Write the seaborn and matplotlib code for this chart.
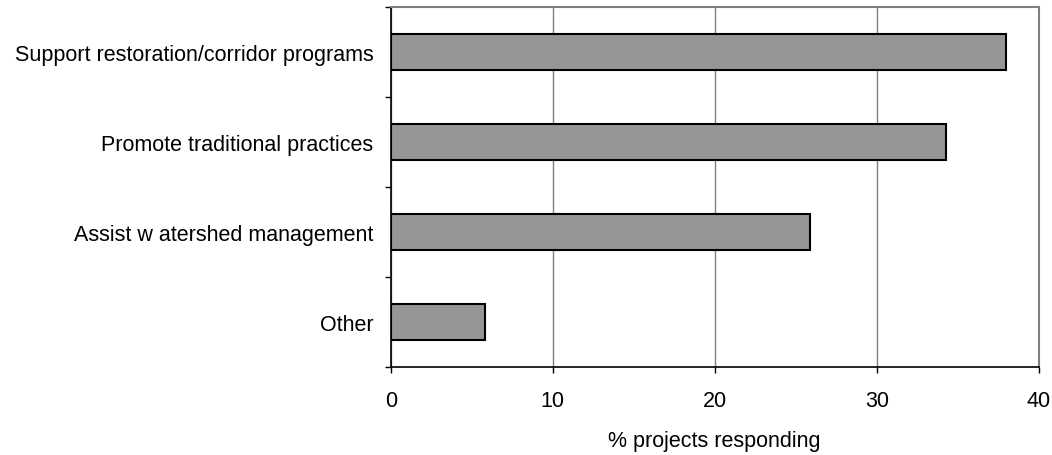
import matplotlib
matplotlib.use("Agg")
import matplotlib.pyplot as plt
import seaborn as sns
import pandas as pd
from matplotlib.ticker import FixedLocator

categories = [
    "Support restoration/corridor programs",
    "Promote traditional practices",
    "Assist w atershed management",
    "Other",
]
values = [38.0, 34.3, 25.9, 5.8]
x_ticks = [0, 10, 20, 30, 40]
x_label = "% projects responding"

sns.set_theme(style="white")
plt.rcParams["font.family"] = ["Liberation Sans", "DejaVu Sans"]

FS = 15.5

df = pd.DataFrame({"category": categories, "value": values})

fig = plt.figure(figsize=(10.52, 4.56), dpi=100)
ax = fig.add_axes([0.3714, 0.1923, 0.6160, 0.7902])

sns.barplot(data=df, x="value", y="category", orient="h", ax=ax,
            color="#969696", saturation=1, width=0.4,
            edgecolor="black", linewidth=1.5, zorder=3)

ax.set_xlim(0, 40)
ax.set_ylim(len(categories) - 0.5, -0.5)
ax.set_xticks(x_ticks)
ax.set_xticklabels([str(t) for t in x_ticks])
ax.xaxis.grid(True, color="#808080", linewidth=1.0, zorder=0)
ax.yaxis.grid(False)

# category separators as outward ticks on the value axis
ax.yaxis.set_minor_locator(FixedLocator([i - 0.5 for i in range(len(categories) + 1)]))
ax.tick_params(axis="y", which="major", length=0, pad=12.5, labelsize=FS, colors="black")
ax.tick_params(axis="y", which="minor", left=True, length=4.5, width=1.0, color="black")
ax.tick_params(axis="x", which="major", bottom=True, length=4.0, width=1.0,
               color="black", pad=12, labelsize=FS, labelcolor="black")

ax.set_ylabel("")
ax.set_xlabel(x_label, fontsize=FS, labelpad=14, color="black")

for side in ("left", "bottom"):
    ax.spines[side].set_color("black")
    ax.spines[side].set_linewidth(1.2)
for side in ("top", "right"):
    ax.spines[side].set_visible(True)
    ax.spines[side].set_color("#808080")
    ax.spines[side].set_linewidth(1.5)

fig.savefig("out.png", dpi=100, facecolor="white")
